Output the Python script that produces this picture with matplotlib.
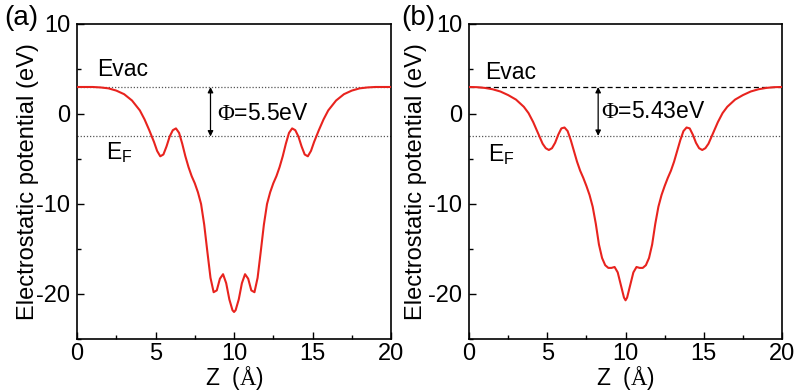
import matplotlib.pyplot as plt
import numpy as np

plt.rcParams['font.family'] = ['Liberation Sans', 'DejaVu Sans']
plt.rcParams['mathtext.fontset'] = 'custom'
plt.rcParams['mathtext.rm'] = 'Liberation Serif'
plt.rcParams['mathtext.sf'] = 'Liberation Sans'

# panel (a) potential profile
z_a = [0, 1, 1.5, 2, 2.5, 3, 3.5, 4, 4.3, 4.6, 4.9, 5.1, 5.3, 5.5, 5.7, 5.9,
       6.1, 6.3, 6.5, 6.7, 6.9, 7.1, 7.3, 7.5, 7.7, 7.9, 8.1, 8.3, 8.5, 8.7,
       8.9, 9.1, 9.3, 9.5, 9.7, 9.9, 10.0, 10.1, 10.3, 10.5, 10.7, 10.9, 11.1,
       11.3, 11.5, 11.7, 11.9, 12.1, 12.3, 12.5, 12.7, 12.9, 13.1, 13.3, 13.5,
       13.7, 13.9, 14.1, 14.3, 14.5, 14.7, 14.9, 15.1, 15.4, 15.7, 16, 16.5,
       17, 17.5, 18, 18.5, 19, 20]
v_a = [3.0, 3.0, 2.95, 2.85, 2.6, 2.2, 1.5, 0.4, -0.6, -1.8, -3.1, -4.1, -4.7,
       -4.5, -3.6, -2.5, -1.8, -1.6, -2.1, -3.3, -4.7, -5.9, -6.9, -7.7, -8.7,
       -10.0, -12.3, -15.3, -18.2, -19.8, -19.6, -18.3, -17.8, -18.8, -20.6,
       -21.8, -22.0, -21.8, -20.6, -18.8, -17.8, -18.3, -19.6, -19.8, -18.2,
       -15.3, -12.3, -10.0, -8.7, -7.7, -6.9, -5.9, -4.7, -3.3, -2.1, -1.6,
       -1.8, -2.5, -3.6, -4.5, -4.7, -4.1, -3.1, -1.8, -0.6, 0.4, 1.5, 2.2,
       2.6, 2.85, 2.95, 3.0, 3.0]

# panel (b)
z_b = [0, 0.5, 1, 1.5, 2, 2.5, 3, 3.5, 3.8, 4.1, 4.4, 4.7, 4.9, 5.1, 5.3, 5.5,
       5.7, 5.9, 6.1, 6.3, 6.5, 6.7, 6.9, 7.1, 7.3, 7.5, 7.7, 7.9, 8.1, 8.3,
       8.5, 8.7, 8.9, 9.1, 9.3, 9.5, 9.7, 9.9, 10.0, 10.1, 10.3, 10.5, 10.7,
       10.9, 11.1, 11.3, 11.5, 11.7, 11.9, 12.1, 12.3, 12.5, 12.7, 12.9, 13.1,
       13.3, 13.5, 13.7, 13.9, 14.1, 14.3, 14.5, 14.7, 14.9, 15.1, 15.3, 15.6,
       15.9, 16.2, 16.5, 17, 17.5, 18, 18.5, 19, 19.5, 20]
v_b = [3.0, 2.98, 2.9, 2.75, 2.5, 2.1, 1.6, 0.8, 0.1, -0.9, -2.1, -3.3, -3.8,
       -4.0, -3.8, -3.2, -2.3, -1.6, -1.5, -1.9, -2.9, -4.1, -5.3, -6.3, -7.1,
       -8.0, -9.0, -10.3, -12.2, -14.5, -16.0, -16.8, -17.1, -17.1, -17.0,
       -17.6, -19.0, -20.4, -20.7, -20.4, -19.0, -17.6, -17.0, -17.1, -17.1,
       -16.8, -16.0, -14.5, -12.2, -10.3, -9.0, -8.0, -7.1, -6.3, -5.3, -4.1,
       -2.9, -1.9, -1.5, -1.6, -2.3, -3.2, -3.8, -4.0, -3.8, -3.3, -2.1, -0.9,
       0.1, 0.8, 1.6, 2.1, 2.5, 2.75, 2.9, 2.98, 3.0]

evac = [3.0, 3.0]
ef = [-2.5, -2.43]
phi_labels = [r'$\mathrm{\Phi}$=5.5eV', r'$\mathrm{\Phi}$=5.43eV']
panel_labels = ['(a)', '(b)']

fig = plt.figure(figsize=(7.95, 3.92), dpi=100)
ax_a = fig.add_axes([0.0969, 0.1352, 0.395, 0.8036])
ax_b = fig.add_axes([0.590, 0.1352, 0.3937, 0.8036])

red = '#e8231e'
settings = [
    (ax_a, z_a, v_a, 0, 1.27, 4.9, 1.85, -4.3, 8.5, 8.9, 0.0, ':', '#555555', 0.005, -0.122),
    (ax_b, z_b, v_b, 1, 1.0, 4.6, 1.2, -4.5, 8.25, 8.4, 0.3, '--', 'black', 0.505, -0.135),
]

for ax, z, v, i, ex, ey, fx, fy, arx, px, py, evst, evcol, lx, ylx in settings:
    ax.plot(z, v, color=red, lw=1.5, zorder=3)
    ax.axhline(evac[i], color=evcol, ls=evst, lw=0.9, dashes=(1, 1.5) if evst == ':' else (4, 2.5))
    ax.axhline(ef[i], color='#555555', ls=':', lw=0.9, dashes=(1, 1.5))
    ax.annotate('', xy=(arx, evac[i]), xytext=(arx, ef[i]),
                arrowprops=dict(arrowstyle='<|-|>', color='black', lw=0.9,
                                mutation_scale=8, shrinkA=0, shrinkB=0))
    ax.text(ex, ey, 'Evac', fontsize=16.5, va='center', ha='left')
    ax.text(fx, fy, r'E$_\mathsf{F}$', fontsize=16.5, va='center', ha='left')
    ax.text(px, py, phi_labels[i], fontsize=16.5, va='center', ha='left')

    ax.set_xlim(0, 20)
    ax.set_ylim(-25, 10)
    ax.set_xticks([0, 5, 10, 15, 20])
    ax.set_xticks([2.5, 7.5, 12.5, 17.5], minor=True)
    ax.set_yticks([-20, -10, 0, 10])
    ax.set_yticklabels(['-20', '-10', '0', '10'])
    ax.set_yticks([-25, -15, -5, 5], minor=True)
    ax.tick_params(which='both', direction='in', top=False, right=False, labelsize=17)
    ax.tick_params(axis='y', pad=5)
    ax.tick_params(axis='x', pad=3)
    ax.tick_params(which='major', length=5, width=1)
    ax.tick_params(which='minor', length=3, width=1)
    for s in ax.spines.values():
        s.set_linewidth(1.2)
    ax.set_xlabel(r'Z  ($\mathrm{\AA}$)', fontsize=16.5, labelpad=-1)
    ax.set_ylabel('Electrostatic potential (eV)', fontsize=17)
    ax.yaxis.set_label_coords(ylx, 0.5)
    fig.text(lx, 0.955, panel_labels[i], fontsize=20, va='center', ha='left')

fig.savefig('out.png', dpi=100)
